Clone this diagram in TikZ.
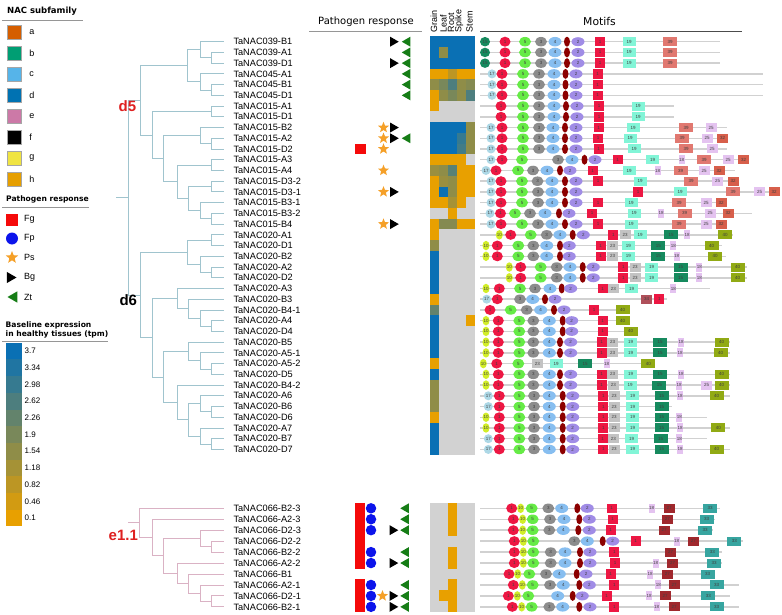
\documentclass[tikz,border=0pt]{standalone}
\usepackage{fontspec}
\setmainfont{Liberation Sans}
\newfontfamily\dejavu{DejaVu Sans}
\usepackage{tikz}
\usetikzlibrary{positioning,shapes.geometric}

% subfamily colours
\definecolor{sfa}{RGB}{213,94,0}
\definecolor{sfb}{RGB}{0,158,115}
\definecolor{sfc}{RGB}{86,180,233}
\definecolor{sfd}{RGB}{0,114,178}
\definecolor{sfe}{RGB}{204,121,167}
\definecolor{sff}{RGB}{0,0,0}
\definecolor{sfg}{RGB}{240,228,66}
\definecolor{sfh}{RGB}{230,159,0}
% pathogen marks
\definecolor{fgred}{RGB}{245,10,10}
\definecolor{fpblue}{RGB}{12,20,235}
\definecolor{psorange}{RGB}{245,160,40}
\definecolor{ztgreen}{RGB}{22,125,22}
% expression
\definecolor{hhi}{RGB}{10,112,180}
\definecolor{hlo}{RGB}{232,160,0}
\definecolor{hgrey}{RGB}{210,210,210}
% tree
\definecolor{dtree}{RGB}{160,196,206}
\definecolor{etree}{RGB}{218,178,196}
\definecolor{cladered}{RGB}{222,32,32}
\definecolor{rulegrey}{RGB}{150,150,150}
% motifs
\definecolor{c15}{RGB}{22,138,94}
\definecolor{c17}{RGB}{173,216,230}
\definecolor{c1}{RGB}{237,23,67}
\definecolor{c10}{RGB}{210,238,40}
\definecolor{c5}{RGB}{102,235,70}
\definecolor{c3}{RGB}{140,140,140}
\definecolor{c4}{RGB}{135,190,240}
\definecolor{c6}{RGB}{140,0,0}
\definecolor{c2}{RGB}{160,140,230}
\definecolor{c19}{RGB}{130,245,215}
\definecolor{c39}{RGB}{225,120,112}
\definecolor{c25}{RGB}{228,195,240}
\definecolor{c32}{RGB}{215,95,75}
\definecolor{c23}{RGB}{195,195,195}
\definecolor{c40}{RGB}{145,170,20}
\definecolor{c34}{RGB}{175,80,90}
\definecolor{c27}{RGB}{160,40,45}
\definecolor{c33}{RGB}{55,165,160}

\newcommand{\ry}[1]{41.7+10.73*#1}
\newcommand{\sy}[1]{508.3+10.95*#1}
\newcommand{\heatrow}[3]{%
  \foreach \v [count=\c from 0] in {#3} {%
    \ifnum\v<0 \edef\hcol{hgrey}\else\edef\hcol{hhi!\v!hlo}\fi
    \fill[fill=\hcol] ({430+9*\c},{#1-#2/2}) rectangle ++(9,#2);}}
\newcommand{\motifrow}[4]{%
  \coordinate (ms) at (#2,{#1});
  \coordinate (me) at (#3,{#1});
  \draw[motif line] (ms) -- (me);
  \foreach \m/\x in {#4} {\node at (\x,{#1}) [\m];}}

\begin{document}
\begin{tikzpicture}[x=1pt,y=-1pt,
    leaf node/.style={anchor=west,inner sep=0pt,font=\fontsize{9.2}{10}\selectfont},
    d tree/.style={draw=dtree,line width=0.9pt,line cap=rect},
    e tree/.style={draw=etree,line width=0.9pt,line cap=rect},
    clade label/.style={inner sep=0pt,font=\fontsize{15}{16}\selectfont\bfseries},
    title text/.style={anchor=west,inner sep=0pt,font=\dejavu\bfseries\fontsize{7.6}{8.7}\selectfont},
    head text/.style={inner sep=0pt,font=\dejavu\fontsize{10}{12}\selectfont},
    legend text/.style={anchor=west,inner sep=0pt,font=\fontsize{9}{10}\selectfont},
    bar text/.style={anchor=west,inner sep=0pt,font=\fontsize{8}{9}\selectfont},
    heat head/.style={rotate=90,anchor=west,inner sep=0pt,font=\fontsize{9}{10}\selectfont},
    rule line/.style={draw=rulegrey,line width=0.9pt},
    sub box/.style={rectangle,draw=black!35,line width=0.5pt,minimum size=14,inner sep=0pt},
    fg mark/.style={rectangle,fill=fgred,minimum width=10.5,minimum height=10.7,inner sep=0pt},
    fp mark/.style={circle,fill=fpblue,minimum size=10.5,inner sep=0pt},
    ps mark/.style={star,star points=5,star point ratio=2.3,fill=psorange,minimum size=11.5,inner sep=0pt},
    bg mark/.style={regular polygon,regular polygon sides=3,shape border rotate=-90,fill=black,minimum size=11.5,inner sep=0pt},
    zt mark/.style={regular polygon,regular polygon sides=3,shape border rotate=90,fill=ztgreen,minimum size=11.5,inner sep=0pt},
    motif line/.style={draw=black!18,line width=1.5pt},
    motif/.style={inner sep=0pt,text=black!75,font=\fontsize{4.5}{5}\selectfont},
    oval/.style={motif,ellipse,minimum width=11,minimum height=9.5},
    box/.style={motif,rectangle,minimum width=13,minimum height=9},
    o15/.style={oval,fill=c15,minimum width=10,node contents={15}},
    o17/.style={oval,fill=c17,minimum width=9,minimum height=9,node contents={17}},
    o1/.style={oval,fill=c1,minimum height=10,node contents={1}},
    o10/.style={oval,fill=c10,minimum width=7,minimum height=9.5,node contents={10}},
    o5/.style={oval,fill=c5,minimum width=12,node contents={5}},
    o3/.style={oval,fill=c3,minimum width=12,node contents={3}},
    o4/.style={oval,fill=c4,minimum width=13,node contents={4}},
    o6/.style={oval,fill=c6,minimum width=6,minimum height=10,node contents={}},
    o2/.style={oval,fill=c2,minimum width=13,minimum height=9,node contents={2}},
    b1/.style={box,fill=c1,minimum width=10,minimum height=9.5,node contents={1}},
    b19/.style={box,fill=c19,node contents={19}},
    b39/.style={box,fill=c39,minimum width=14,node contents={39}},
    b25/.style={box,fill=c25,minimum width=11,node contents={25}},
    b32/.style={box,fill=c32,minimum width=11,node contents={32}},
    b18/.style={box,fill=c25,minimum width=6,node contents={18}},
    b23/.style={box,fill=c23,minimum width=11,node contents={23}},
    b15/.style={box,fill=c15,minimum width=14,node contents={15}},
    b40/.style={box,fill=c40,minimum width=14,node contents={40}},
    b34/.style={box,fill=c34,minimum width=11,node contents={34}},
    b27/.style={box,fill=c27,minimum width=11,node contents={27}},
    b33/.style={box,fill=c33,minimum width=14,node contents={33}}]

\useasboundingbox (0,0) rectangle (782,615);

% legend: subfamilies
\node[title text,font=\dejavu\bfseries\fontsize{8.5}{9}\selectfont] (tsub) at (7,11) {NAC subfamily};
\coordinate (ra1) at (2,20); \coordinate (ra2) at (83,20);
\draw[rule line] (ra1) -- (ra2);
\foreach \l/\c [count=\i from 0] in {a/sfa,b/sfb,c/sfc,d/sfd,e/sfe,f/sff,g/sfg,h/sfh} {
  \node[sub box,fill=\c] (sf\l) at (14,{32+21*\i}) {};
  \node[legend text,right=8pt of sf\l] {\l};
}

% legend: pathogens
\node[title text] (tpat) at (6,199) {Pathogen response};
\coordinate (rb1) at (2,207.7); \coordinate (rb2) at (89,207.7);
\draw[rule line] (rb1) -- (rb2);
\node[fg mark,minimum size=12] (lfg) at (12,219.5) {};
\node[fp mark,minimum size=12] (lfp) at (12,238.5) {};
\node[ps mark,minimum size=13] (lps) at (12,257.5) {};
\node[bg mark,minimum size=13] (lbg) at (10,277.5) {};
\node[zt mark,minimum size=13] (lzt) at (14,297) {};
\foreach \t/\y in {Fg/219.5,Fp/238.5,Ps/257.5,Bg/277.5,Zt/297}
  \node[legend text] at (24,\y) {\t};

% legend: expression scale
\node[title text] (texp1) at (5.5,325.7) {Baseline expression};
\node[title text] (texp2) at (5.5,334.6) {in healthy tissues (tpm)};
\coordinate (rc1) at (2,341.7); \coordinate (rc2) at (108,341.7);
\draw[rule line] (rc1) -- (rc2);
\foreach \j in {0,...,10} {
  \pgfmathtruncatemacro\pv{100-10*\j}
  \fill[fill=hhi!\pv!hlo] (6,{342.7+16.7*\j}) rectangle ++(16,16.7);
}
\foreach \t [count=\j from 0] in {3.7,3.34,2.98,2.62,2.26,1.9,1.54,1.18,0.82,0.46,0.1}
  \node[bar text] at (24.5,{351+16.7*\j}) {\t};

% leaves
\foreach \name [count=\i from 0] in {TaNAC039-B1,TaNAC039-A1,TaNAC039-D1,TaNAC045-A1,TaNAC045-B1,TaNAC045-D1,TaNAC015-A1,TaNAC015-D1,TaNAC015-B2,TaNAC015-A2,TaNAC015-D2,TaNAC015-A3,TaNAC015-A4,TaNAC015-D3-2,TaNAC015-D3-1,TaNAC015-B3-1,TaNAC015-B3-2,TaNAC015-B4,TaNAC020-A1,TaNAC020-D1,TaNAC020-B2,TaNAC020-A2,TaNAC020-D2,TaNAC020-A3,TaNAC020-B3,TaNAC020-B4-1,TaNAC020-A4,TaNAC020-D4,TaNAC020-B5,TaNAC020-A5-1,TaNAC020-A5-2,TaNAC020-D5,TaNAC020-B4-2,TaNAC020-A6,TaNAC020-B6,TaNAC020-D6,TaNAC020-A7,TaNAC020-B7,TaNAC020-D7} {
  \node[leaf node] (L\i) at (233.3,{\ry{\i}}) {\name};
  \coordinate (T\i) at (223.3,{\ry{\i}});
}
\foreach \name [count=\i from 0] in {TaNAC066-B2-3,TaNAC066-A2-3,TaNAC066-D2-3,TaNAC066-D2-2,TaNAC066-B2-2,TaNAC066-A2-2,TaNAC066-B1,TaNAC066-A2-1,TaNAC066-D2-1,TaNAC066-B2-1} {
  \node[leaf node] (K\i) at (233.3,{\sy{\i}}) {\name};
  \coordinate (U\i) at (223.3,{\sy{\i}});
}

% d5 / d6 tree
\coordinate (n039ad) at (211,{\ry{1.5}});
\coordinate (n039) at (200,{\ry{0.75}});
\coordinate (n045bd) at (211,{\ry{4.5}});
\coordinate (n045) at (200,{\ry{3.75}});
\coordinate (nA) at (187,{\ry{2.25}});
\coordinate (n015ad) at (211,{\ry{6.5}});
\coordinate (n015ad2) at (211,{\ry{9.5}});
\coordinate (n015b2) at (200,{\ry{8.75}});
\coordinate (n015aa) at (211,{\ry{11.5}});
\coordinate (n015d3) at (211,{\ry{13.5}});
\coordinate (n015b34) at (211,{\ry{16.5}});
\coordinate (n015b3) at (200,{\ry{15.75}});
\coordinate (n015x) at (188,{\ry{14.625}});
\coordinate (n015y) at (177,{\ry{13.0625}});
\coordinate (n015z) at (163,{\ry{10.906}});
\coordinate (n015) at (152,{\ry{8.703}});
\coordinate (nd5) at (140,{\ry{5.477}});
\coordinate (m1) at (211,{\ry{18.5}});
\coordinate (m2) at (211,{\ry{21.5}});
\coordinate (m3) at (200,{\ry{20.75}});
\coordinate (m4) at (187,{\ry{19.625}});
\coordinate (m5) at (211,{\ry{26.5}});
\coordinate (m6) at (200,{\ry{25.75}});
\coordinate (m7) at (188,{\ry{24.875}});
\coordinate (m8) at (177,{\ry{23.9375}});
\coordinate (m9) at (211,{\ry{30.5}});
\coordinate (m10) at (200,{\ry{29.75}});
\coordinate (m11) at (188,{\ry{28.875}});
\coordinate (m12) at (211,{\ry{34.5}});
\coordinate (m13) at (200,{\ry{33.75}});
\coordinate (m14) at (211,{\ry{37.5}});
\coordinate (m15) at (200,{\ry{36.75}});
\coordinate (m16) at (188,{\ry{35.25}});
\coordinate (m17) at (177,{\ry{33.625}});
\coordinate (m18) at (163,{\ry{31.25}});
\coordinate (m19) at (152,{\ry{27.59}});
\coordinate (nd6) at (140,{\ry{23.61}});
\coordinate (root) at (128.3,{\ry{14.54}});
\coordinate (root0) at (116.7,{\ry{14.54}});
\foreach \p/\c in {n039ad/T1,n039ad/T2,n039/T0,n039/n039ad,n045bd/T4,n045bd/T5,n045/T3,n045/n045bd,nA/n039,nA/n045,
    n015ad/T6,n015ad/T7,n015ad2/T9,n015ad2/T10,n015b2/T8,n015b2/n015ad2,n015aa/T11,n015aa/T12,n015d3/T13,n015d3/T14,
    n015b34/T16,n015b34/T17,n015b3/T15,n015b3/n015b34,n015x/n015d3,n015x/n015b3,n015y/n015aa,n015y/n015x,
    n015z/n015b2,n015z/n015y,n015/n015ad,n015/n015z,nd5/nA,nd5/n015,
    m1/T18,m1/T19,m2/T21,m2/T22,m3/T20,m3/m2,m4/m1,m4/m3,m5/T26,m5/T27,m6/T25,m6/m5,m7/T24,m7/m6,m8/T23,m8/m7,
    m9/T30,m9/T31,m10/T29,m10/m9,m11/T28,m11/m10,m12/T34,m12/T35,m13/T33,m13/m12,m14/T37,m14/T38,m15/T36,m15/m14,
    m16/m13,m16/m15,m17/T32,m17/m16,m18/m11,m18/m17,m19/m8,m19/m18,nd6/m4,nd6/m19,root/nd5,root/nd6}
  \draw[d tree] (\p) |- (\c);
\draw[d tree] (root0) -- (root);

% e1.1 tree
\coordinate (q1) at (211,{\sy{3.5}});
\coordinate (q2) at (200,{\sy{2.75}});
\coordinate (q3) at (211,{\sy{8.5}});
\coordinate (q4) at (200,{\sy{7.75}});
\coordinate (q5) at (188,{\sy{6.875}});
\coordinate (q6) at (177,{\sy{5.94}});
\coordinate (q7) at (163,{\sy{4.34}});
\coordinate (q8) at (152,{\sy{2.67}});
\coordinate (q9) at (139.3,{\sy{1.335}});
\coordinate (q0) at (128.3,{\sy{1.335}});
\foreach \p/\c in {q1/U3,q1/U4,q2/U2,q2/q1,q3/U8,q3/U9,q4/U7,q4/q3,q5/U6,q5/q4,q6/U5,q6/q5,q7/q2,q7/q6,q8/U1,q8/q7,q9/U0,q9/q8}
  \draw[e tree] (\p) |- (\c);
\draw[e tree] (q0) -- (q9);

\node[clade label,text=cladered] (d5) at (127.5,106.5) {d5};
\node[clade label] (d6) at (128.3,300) {d6};
\node[clade label,text=cladered] (e11) at (123.3,535) {e1.1};

% pathogen response
\node[head text] (phead) at (366,22) {Pathogen response};
\coordinate (rd1) at (309,31.7); \coordinate (rd2) at (422,31.7);
\draw[rule line] (rd1) -- (rd2);
\foreach \i in {10} {\node[fg mark] (fg\i) at (360.5,{\ry{\i}}) {};}
\foreach \i in {8,9,10,12,14,17} {\node[ps mark] (ps\i) at (383.5,{\ry{\i}}) {};}
\foreach \i in {0,2,8,9,14,17} {\node[bg mark] (bg\i) at (393,{\ry{\i}}) {};}
\foreach \i in {0,1,2,3,4,5,9} {\node[zt mark] (zt\i) at (407.5,{\ry{\i}}) {};}
\foreach \i in {0,1,2,3,4,5,7,8,9} {\node[fg mark,minimum height=11] (gfg\i) at (360,{\sy{\i}}) {};}
\foreach \i in {0,1,2,4,5,7,8,9} {\node[fp mark] (gfp\i) at (371,{\sy{\i}}) {};}
\foreach \i in {8} {\node[ps mark] (gps\i) at (382.5,{\sy{\i}}) {};}
\foreach \i in {2,5,8,9} {\node[bg mark] (gbg\i) at (392.5,{\sy{\i}}) {};}
\foreach \i in {0,1,2,4,5,7,8,9} {\node[zt mark] (gzt\i) at (406,{\sy{\i}}) {};}

% expression heatmap
\foreach \t/\x in {Grain/434,Leaf/443.4,Root/451,Spike/459,Stem/469.5}
  {\node[heat head] (h\t) at (\x,32.5) {\t};}
\foreach \i in {0,2} {\heatrow{\ry{\i}}{10.73}{100,100,100,100,100}}
\heatrow{\ry{1}}{10.73}{100,40,100,100,100}
\heatrow{\ry{3}}{10.73}{0,0,20,0,0}
\heatrow{\ry{4}}{10.73}{40,50,70,40,45}
\heatrow{\ry{5}}{10.73}{0,40,50,40,70}
\heatrow{\ry{6}}{10.73}{0,-1,-1,-1,-1}
\heatrow{\ry{7}}{10.73}{-1,-1,-1,-1,-1}
\heatrow{\ry{8}}{10.73}{100,100,100,100,40}
\heatrow{\ry{9}}{10.73}{100,100,100,80,40}
\heatrow{\ry{10}}{10.73}{100,100,100,75,40}
\heatrow{\ry{11}}{10.73}{0,0,0,0,-1}
\heatrow{\ry{12}}{10.73}{35,40,65,0,0}
\heatrow{\ry{13}}{10.73}{0,35,40,0,0}
\heatrow{\ry{14}}{10.73}{0,100,40,0,0}
\heatrow{\ry{15}}{10.73}{0,0,30,0,-1}
\heatrow{\ry{16}}{10.73}{-1,-1,0,-1,-1}
\heatrow{\ry{17}}{10.73}{0,45,45,0,0}
\foreach \i in {18,24,30,35} {\heatrow{\ry{\i}}{10.73}{0,-1,-1,-1,-1}}
\foreach \i in {19,32,33,34} {\heatrow{\ry{\i}}{10.73}{40,-1,-1,-1,-1}}
\foreach \i in {20,21,22,23,27,28,29,31,36,37,38} {\heatrow{\ry{\i}}{10.73}{100,-1,-1,-1,-1}}
\heatrow{\ry{25}}{10.73}{60,-1,-1,-1,-1}
\heatrow{\ry{26}}{10.73}{100,-1,-1,-1,0}
\foreach \i in {0,1,2,4,5,7,9} {\heatrow{\sy{\i}}{10.95}{-1,-1,0,-1,-1}}
\foreach \i in {3,6} {\heatrow{\sy{\i}}{10.95}{-1,-1,-1,-1,-1}}
\heatrow{\sy{8}}{10.95}{-1,0,0,-1,-1}

% motifs
\node[head text,font=\dejavu\fontsize{10.8}{12}\selectfont] (mhead) at (599.5,21) {Motifs};
\coordinate (re1) at (480,31); \coordinate (re2) at (742,31);
\draw[rule line,draw=black!70] (re1) -- (re2);
\foreach \i in {0,1,2}
  {\motifrow{\ry{\i}}{481}{720}{o15/485,o1/505,o5/525,o3/541,o4/555,o6/567,o2/578,b1/600,b19/629,b39/670}}
\foreach \i in {3,4,5}
  {\motifrow{\ry{\i}}{480}{763}{o17/492,o1/502,o5/523,o3/539,o4/554,o6/565.5,o2/576,b1/597.5}}
\foreach \i in {6,7}
  {\motifrow{\ry{\i}}{480}{674}{o1/501,o5/523,o3/539,o4/554,o6/566,o2/577,b1/599,b19/638}}
\motifrow{\ry{8}}{480}{727}{o17/491,o1/502,o5/523,o3/539,o4/553,o6/565,o2/576,b1/598.5,b19/633,b39/686,b25/711}
\motifrow{\ry{9}}{480}{728}{o17/491,o1/502,o5/523,o3/539,o4/553,o6/565,o2/576,b1/598,b19/630,b39/682,b25/707,b32/722.5}
\motifrow{\ry{10}}{480}{727}{o17/491,o1/502,o5/523,o3/539,o4/553,o6/565,o2/576,b1/598.5,b19/634,b39/686,b25/712}
\motifrow{\ry{11}}{480}{749}{o17/491,o1/502,o5/522,o3/558,o4/572,o6/584.5,o2/595,b1/617.5,b19/652.5,b18/681.5,b39/704,b25/728,b32/743.5}
\motifrow{\ry{12}}{480}{735}{o17/486,o1/496,o5/518,o3/533,o4/547,o6/560,o2/570,b1/592.5,b19/629,b18/657.5,b39/680.5,b25/704,b32/719}
\motifrow{\ry{13}}{480}{739}{o17/491,o1/501,o5/522,o3/537.5,o4/552,o6/565,o2/576,b1/598,b19/640,b39/691,b25/717.5,b32/733}
\motifrow{\ry{14}}{480}{780}{o17/491,o1/501,o5/522,o3/538,o4/552,o6/565,o2/576,b1/638,b19/680,b39/733,b25/759.5,b32/774}
\foreach \i in {15,17}
  {\motifrow{\ry{\i}}{480}{727}{o17/491,o1/501,o5/522,o3/538,o4/552,o6/565,o2/576,b1/598,b19/631,b39/679,b25/706,b32/721}}
\motifrow{\ry{16}}{480}{752}{o17/490,o1/500.5,o5/515,o3/530,o4/545,o6/559,o2/569,b1/592,b19/634,b18/661,b39/684.5,b25/710,b32/728}
\motifrow{\ry{18}}{480}{733}{o10/499.3,o1/510.7,o5/530.7,o3/546.7,o4/560,o6/572.7,o2/583.3,b1/613.3,b23/625,b19/640,b15/671,b18/687,b40/725}
\motifrow{\ry{19}}{480}{722}{o10/486,o1/497.3,o5/518.3,o3/533.3,o4/546.7,o6/560,o2/569.3,b1/600.7,b23/612.7,b19/628.3,b15/658.3,b18/673.3,b40/711.7}
\motifrow{\ry{20}}{480}{726}{o10/486,o1/497.3,o5/518.3,o3/533.3,o4/546.7,o6/560,o2/569.3,b1/600.7,b23/612.7,b19/628.3,b15/658.3,b18/676.7,b40/715}
\foreach \i in {21,22}
  {\motifrow{\ry{\i}}{480}{746.7}{o10/509.3,o1/520.7,o5/540.7,o3/556.7,o4/570,o6/582.7,o2/593.3,b1/623.3,b23/635,b19/651.7,b15/680.7,b18/699.3,b40/737.7}}
\motifrow{\ry{23}}{480}{710}{o10/486,o1/499.3,o5/520,o3/535,o4/550,o6/561.7,o2/570.7,b1/602.7,b23/613.3,b19/631.7,b18/673.3}
\motifrow{\ry{24}}{480}{667}{o17/486.7,o1/497.3,o3/520,o4/532.7,o6/545,o2/555,b34/646.7,b1/659.3}
\motifrow{\ry{25}}{480}{630}{o1/490,o5/510.7,o3/526.7,o4/540.7,o6/554,o2/564,b1/594,b40/622.7}
\motifrow{\ry{26}}{480}{630}{o10/486,o1/498.3,o5/519.3,o3/533.3,o4/549.3,o6/562.7,o2/571.7,b1/602.7,b40/622.7}
\motifrow{\ry{27}}{480}{637}{o10/486,o1/498.3,o5/519.3,o3/533.3,o4/549.3,o6/562.7,o2/571.7,b1/602.7,b40/630.7}
\foreach \i in {28,31}
  {\motifrow{\ry{\i}}{480}{730}{o10/486,o1/498.3,o5/519.3,o3/533.3,o4/549.3,o6/560,o2/570.7,b1/601.7,b23/612.7,b19/630.7,b15/660,b18/681,b40/721.7}}
\motifrow{\ry{29}}{480}{730}{o10/486,o1/498.3,o5/519.3,o3/533.3,o4/549.3,o6/560,o2/570.7,b1/601.7,b23/612.7,b19/630.7,b15/660,b18/680,b40/720.7}
\motifrow{\ry{30}}{480}{655}{o10/483.3,o1/496.7,o5/518.3,b23/537.3,b19/556,b15/585,b18/606.7,b40/648.3}
\motifrow{\ry{32}}{480}{730}{o10/486,o1/498.3,o5/519.3,o3/533.3,o4/549.3,o6/560,o2/570.7,b1/601.7,b23/613.3,b19/630,b15/659.3,b18/679,b25/706.7,b40/721.7}
\foreach \i in {33,38}
  {\motifrow{\ry{\i}}{480}{730}{o17/488.3,o1/499.3,o5/519.3,o3/534,o4/549.3,o6/562.7,o2/572.7,b1/603.3,b23/614,b19/632.7,b15/661.7,b18/680,b40/716.7}}
\motifrow{\ry{34}}{480}{672}{o17/488.3,o1/499.3,o5/519.3,o3/534,o4/549.3,o6/562.7,o2/572.7,b1/603.3,b23/614,b19/632.7,b15/661.7}
\motifrow{\ry{35}}{480}{707}{o10/486,o1/499.3,o5/519.3,o3/534,o4/549.3,o6/562.7,o2/572.7,b1/603.3,b23/614,b19/632.7,b15/661.7,b18/679.3}
\motifrow{\ry{36}}{480}{730}{o10/486,o1/499.3,o5/519.3,o3/534,o4/549.3,o6/562.7,o2/572.7,b1/603.3,b23/614,b19/632.7,b15/661.7,b18/680,b40/718.3}
\motifrow{\ry{37}}{480}{707}{o17/488.3,o1/499.3,o5/519.3,o3/534,o4/549.3,o6/562.7,o2/572.7,b1/602.7,b23/613.3,b19/631.7,b15/660.7,b18/679.3}
% e1.1 motifs
\motifrow{\sy{0}}{480}{720}{o1/511.7,o10/520.7,o5/531.7,o3/548.3,o4/561.7,o6/577.3,o2/587.3,b1/611.7,b18/651.7,b27/669,b33/710}
\motifrow{\sy{1}}{480}{715}{o1/513.3,o10/522.7,o5/532.7,o3/550,o4/564,o6/579.3,o2/589.3,b1/612.7,b27/667.3,b33/706.7}
\motifrow{\sy{2}}{480}{713}{o1/513.3,o10/522.7,o5/532.7,o3/549.3,o4/563.3,o6/578.3,o2/589.3,b1/610.7,b27/664,b33/705}
\motifrow{\sy{3}}{480}{743}{o1/514.3,o10/523.3,o5/533.3,o3/574.3,o4/587.3,o6/602.7,o2/612.7,b1/635.7,b18/676.7,b27/693.3,b33/734.3}
\motifrow{\sy{4}}{480}{722}{o1/514.3,o10/523.3,o5/533.3,o3/550.7,o4/565,o6/580,o2/590,b1/614.3,b27/670.7,b33/712.3}
\motifrow{\sy{5}}{480}{722}{o1/514.3,o10/523.3,o5/533.3,o3/550.7,o4/565,o6/580,o2/590,b1/615,b18/655.7,b27/672.7,b33/714}
\motifrow{\sy{6}}{480}{712}{o1/509,o10/517.7,o5/529.3,o3/546,o4/559.3,o6/576.7,o2/586,b1/610.7,b18/650,b27/667.3,b33/707.7}
\motifrow{\sy{7}}{480}{739}{o1/513.3,o10/522.3,o5/532.7,o3/550,o4/563.3,o6/579.3,o2/589.3,b1/614.3,b18/658.3,b27/674,b33/716.7}
\motifrow{\sy{8}}{480}{730}{o1/508.3,o10/517.3,o5/528.3,o4/557.7,o6/572.7,o2/582.3,b1/606.7,b18/649,b27/665,b33/708.3}
\motifrow{\sy{9}}{480}{739}{o1/512.3,o10/521.7,o5/531.7,o3/549.3,o4/562.7,o6/579.3,o2/590,b1/614.3,b18/656.7,b27/674,b33/716.7}

\end{tikzpicture}
\end{document}
